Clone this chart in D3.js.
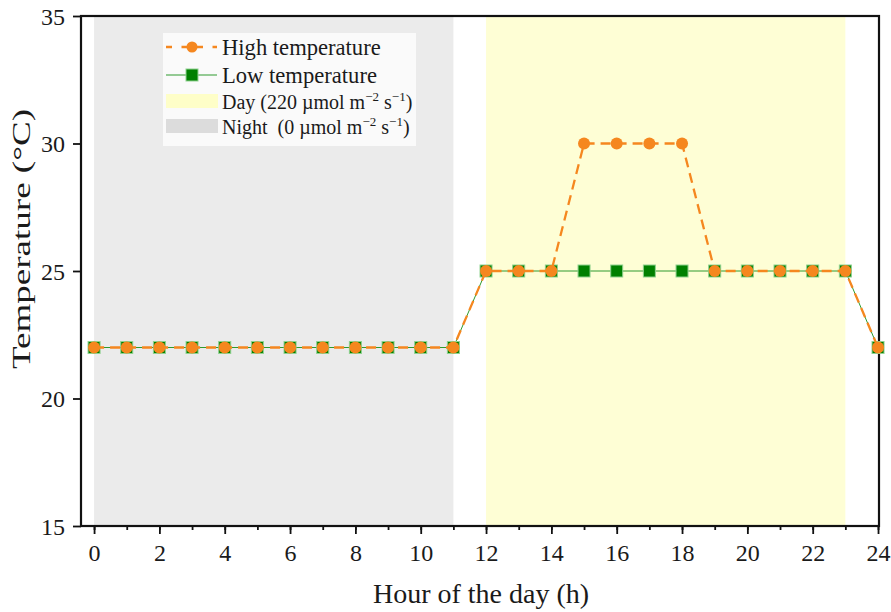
<!DOCTYPE html>
<html>
<head>
<meta charset="utf-8">
<script src="https://cdn.jsdelivr.net/npm/d3@7"></script>
<style>
  body { margin: 0; background: #fff; }
  svg text { font-family: "Liberation Serif", "Times New Roman", serif; fill: #1a1a1a; }
</style>
</head>
<body>
<svg id="chart" width="891" height="612"></svg>
<script>
// data
var hours = d3.range(0, 25);
var highTemp = [22,22,22,22,22,22,22,22,22,22,22,22,25,25,25,30,30,30,30,25,25,25,25,25,22];
var lowTemp  = [22,22,22,22,22,22,22,22,22,22,22,22,25,25,25,25,25,25,25,25,25,25,25,25,22];
var nightSpan = [0, 11];
var daySpan = [12, 23];
var yTicks = [15, 20, 25, 30, 35];
var xTicks = [0, 2, 4, 6, 8, 10, 12, 14, 16, 18, 20, 22, 24];

var serif = "'Liberation Serif', 'Times New Roman', serif";
var svg = d3.select("#chart");
var L = 81, R = 879, T = 16, B = 526;

var x = d3.scaleLinear().domain([-0.4, 24.03]).range([L, R]);
var y = d3.scaleLinear().domain([15, 35]).range([B, T]);

// background bands
svg.append("rect").attr("x", x(nightSpan[0])).attr("y", T)
  .attr("width", x(nightSpan[1]) - x(nightSpan[0])).attr("height", B - T)
  .attr("fill", "#ebebeb");
svg.append("rect").attr("x", x(daySpan[0])).attr("y", T)
  .attr("width", x(daySpan[1]) - x(daySpan[0])).attr("height", B - T)
  .attr("fill", "#fefed5");

// axes
var yAxis = d3.axisLeft(y).tickValues(yTicks).tickSize(8).tickPadding(8);
var gy = svg.append("g").attr("transform", "translate(" + L + ",0)").call(yAxis);
gy.selectAll("text").style("font-size", "24px").attr("dy", "0.34em");

var gxMinor = svg.append("g").attr("transform", "translate(0," + B + ")")
  .call(d3.axisBottom(x).tickValues(hours).tickSize(4).tickFormat(""));
var gx = svg.append("g").attr("transform", "translate(0," + B + ")")
  .call(d3.axisBottom(x).tickValues(xTicks).tickSize(8).tickPadding(10));
gx.selectAll("text").style("font-size", "24px");
[gy, gx, gxMinor].forEach(function(g){
  g.attr("font-family", serif);
  g.selectAll("text").style("font-family", serif).attr("fill", "#1a1a1a");
  g.select(".domain").remove();
  g.selectAll("line").attr("stroke", "#111").attr("stroke-width", 1.8);
});

// frame
svg.append("rect").attr("x", L).attr("y", T).attr("width", R - L).attr("height", B - T)
  .attr("fill", "none").attr("stroke", "#111").attr("stroke-width", 2.2);

// axis titles
svg.append("text").attr("x", 481).attr("y", 603).attr("text-anchor", "middle")
  .style("font-size", "28px").text("Hour of the day (h)");
svg.append("text").attr("transform", "translate(30,239) rotate(-90)")
  .attr("text-anchor", "middle").style("font-size", "25px")
  .attr("textLength", 260).attr("lengthAdjust", "spacingAndGlyphs")
  .text("Temperature (\u00B0C)");

// low temperature series
var line = d3.line().x(function(d, i){ return x(hours[i]); }).y(function(d){ return y(d); });
svg.append("path").datum(lowTemp).attr("d", line)
  .attr("fill", "none").attr("stroke", "#2e9a2e").attr("stroke-width", 1);
svg.selectAll(".sq").data(lowTemp).enter().append("rect").attr("class", "sq")
  .attr("x", function(d, i){ return x(hours[i]) - 6; })
  .attr("y", function(d){ return y(d) - 6; })
  .attr("width", 12).attr("height", 12)
  .attr("fill", "#008000").attr("stroke", "#8fd18f").attr("stroke-width", 1);

// high temperature series
svg.append("path").datum(highTemp).attr("d", line)
  .attr("fill", "none").attr("stroke", "#f5871f").attr("stroke-width", 2.3)
  .attr("stroke-dasharray", "10,6");
svg.selectAll(".dot").data(highTemp).enter().append("circle").attr("class", "dot")
  .attr("cx", function(d, i){ return x(hours[i]); })
  .attr("cy", function(d){ return y(d); })
  .attr("r", 6).attr("fill", "#f5871f");

// legend
var lg = svg.append("g").attr("transform", "translate(163,33)");
lg.append("rect").attr("width", 253).attr("height", 113).attr("fill", "#fafafa");
// high
lg.append("line").attr("x1", 3).attr("x2", 54).attr("y1", 14).attr("y2", 14)
  .attr("stroke", "#f5871f").attr("stroke-width", 2.3).attr("stroke-dasharray", "6,9.5");
lg.append("circle").attr("cx", 29).attr("cy", 14).attr("r", 5.5).attr("fill", "#f5871f");
lg.append("text").attr("x", 59).attr("y", 22).style("font-size", "22.6px").text("High temperature");
// low
lg.append("line").attr("x1", 3).attr("x2", 54).attr("y1", 42).attr("y2", 42)
  .attr("stroke", "#2e9a2e").attr("stroke-width", 1);
lg.append("rect").attr("x", 23).attr("y", 36).attr("width", 12).attr("height", 12)
  .attr("fill", "#008000").attr("stroke", "#8fd18f");
lg.append("text").attr("x", 59).attr("y", 50).style("font-size", "22.6px").text("Low temperature");
// day
lg.append("rect").attr("x", 3).attr("y", 61).attr("width", 52).attr("height", 14).attr("fill", "#fefec8");
var t1 = lg.append("text").attr("x", 59).attr("y", 76).style("font-size", "20px");
t1.append("tspan").text("Day (220 \u00B5mol m");
t1.append("tspan").attr("dy", -8).style("font-size", "13px").text("\u22122");
t1.append("tspan").attr("dy", 8).text(" s");
t1.append("tspan").attr("dy", -8).style("font-size", "13px").text("\u22121");
t1.append("tspan").attr("dy", 8).text(")");
// night
lg.append("rect").attr("x", 3).attr("y", 86).attr("width", 52).attr("height", 14).attr("fill", "#dcdcdc");
var t2 = lg.append("text").attr("x", 59).attr("y", 101).style("font-size", "20px");
t2.append("tspan").text("Night\u00A0 (0 \u00B5mol m");
t2.append("tspan").attr("dy", -8).style("font-size", "13px").text("\u22122");
t2.append("tspan").attr("dy", 8).text(" s");
t2.append("tspan").attr("dy", -8).style("font-size", "13px").text("\u22121");
t2.append("tspan").attr("dy", 8).text(")");
</script>
</body>
</html>
